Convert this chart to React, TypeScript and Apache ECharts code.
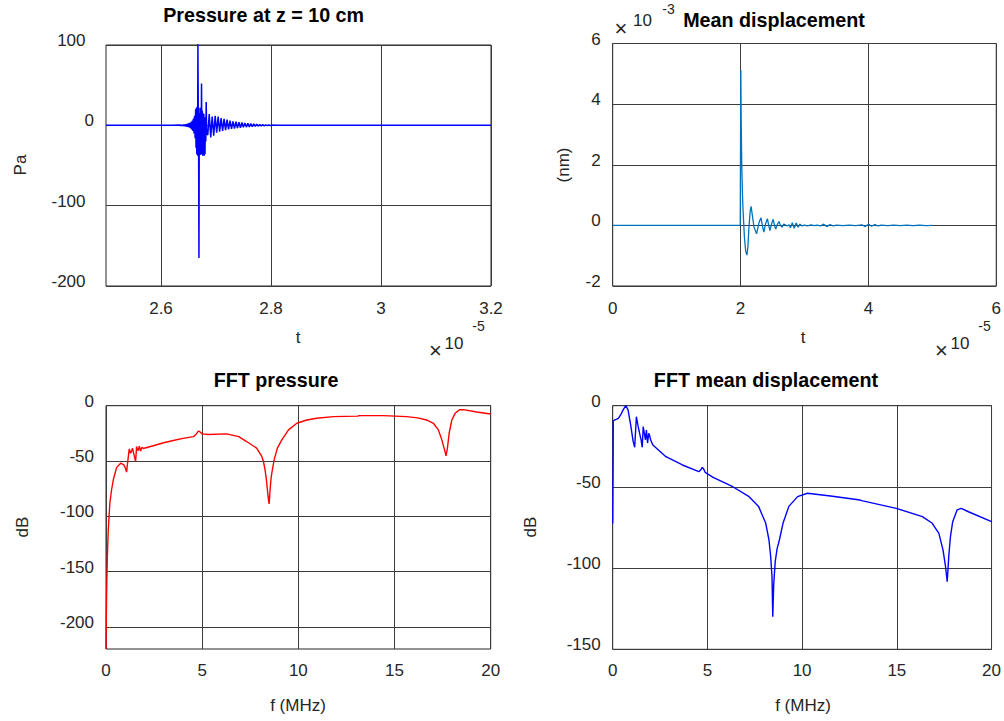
import React, { useEffect, useRef } from 'react';
import * as echarts from 'echarts';

// ---------- data ----------
// Pressure at z = 10 cm : t in units of 1e-5 s, pressure in Pa
const pressureT = [
  2.5, 2.62, 2.635, 2.636, 2.637, 2.638, 2.639, 2.64, 2.641, 2.642, 2.643, 2.644, 2.645, 2.646, 2.647, 2.648,
  2.649, 2.65, 2.651, 2.652, 2.653, 2.654, 2.655, 2.656, 2.657, 2.658, 2.659, 2.66, 2.661, 2.662, 2.663,
  2.6637, 2.6644, 2.6651, 2.6658, 2.6665, 2.6671, 2.6678, 2.6684, 2.669, 2.6696, 2.6702, 2.6709, 2.6716,
  2.6723, 2.673, 2.6737, 2.6744, 2.6751, 2.6758, 2.6765, 2.6772, 2.6779, 2.6786, 2.6793, 2.68, 2.6807,
  2.6814, 2.6822, 2.683, 2.685, 2.6877, 2.6904, 2.6931, 2.6958, 2.6985, 2.7012, 2.7039, 2.7066, 2.7093,
  2.712, 2.7147, 2.7174, 2.7201, 2.7228, 2.7255, 2.7282, 2.7309, 2.7336, 2.7363, 2.739, 2.7417, 2.7444,
  2.7471, 2.7498, 2.7525, 2.7552, 2.7579, 2.7606, 2.7633, 2.766, 2.7687, 2.7714, 2.7741, 2.7768, 2.7795,
  2.7822, 2.7849, 2.7876, 2.7903, 2.793, 2.7957, 2.7984, 2.8011, 2.81, 3.2,
];
const pressurePa = [
  0, 0, 0.5, -0.5, 0.6, -0.6, 0.7, -0.8, 0.9, -1.0, 1.1, -1.2, 1.4, -1.5, 1.7, -1.9,
  2.1, -2.4, 2.7, -3.0, 3.4, -3.9, 4.5, -5.2, 6.0, -7.0, 8.5, -10, 12, -16, 20,
  -28, 22, -36, 23, -38, 103, 10, -30, -165, 15, -36, 22, -37,
  20, -35, 52, -36, 18, -38, 15, -37, 14, -38, 10, -36, 8,
  -20, 29, -10, -12, 14, -15, 11, -13, 12, -9, 11, -8, 9,
  -7, 8, -6, 7, -5, 6, -4.5, 5, -4, 4.5, -3.5, 4, -3,
  3.5, -2.5, 3, -2.2, 2.5, -2, 2.2, -1.6, 1.8, -1.3, 1.4, -1, 1.1,
  -0.8, 0.8, -0.6, 0.6, -0.4, 0.4, -0.3, 0.3, 0, 0,
];

// Mean displacement : t in units of 1e-5 s, displacement in units of 1e-3 nm
const dispT = [
  0, 1.995, 2.0, 2.004, 2.01, 2.015, 2.02, 2.03, 2.04, 2.05, 2.06, 2.08, 2.1, 2.115, 2.13, 2.15, 2.165,
  2.18, 2.21, 2.25, 2.29, 2.32, 2.345, 2.365, 2.39, 2.42, 2.44, 2.46, 2.485, 2.51, 2.53, 2.55, 2.575,
  2.6, 2.625, 2.65, 2.675, 2.7, 2.73, 2.76, 2.78, 2.81, 2.84, 2.87, 2.9, 2.93, 2.96, 3.0, 3.05, 3.1,
  3.15, 3.2, 3.25, 3.3, 3.35, 3.4, 3.45, 3.5, 3.6, 3.7, 3.8, 3.9, 3.95, 4.0, 4.05, 4.1, 4.15, 4.2,
  4.3, 4.4, 4.5, 4.6, 4.7, 4.8, 4.9, 5.0,
];
const dispV = [
  0, 0, 0.02, 5.12, 3.45, 2.6, 1.9, 1.0, 0.45, 0.05, -0.38, -0.85, -0.98, -0.7, -0.1, 0.45, 0.63,
  0.4, -0.05, -0.28, 0.1, 0.25, -0.05, -0.22, 0.05, 0.22, 0.0, -0.17, 0.05, 0.2, 0.0, -0.12, 0.03,
  0.13, 0.0, -0.06, 0.04, 0.02, -0.02, 0.02, -0.08, 0.09, -0.1, 0.08, -0.06, 0.04, -0.02, 0.01, -0.02, 0.02,
  -0.01, 0.01, -0.02, 0.04, -0.04, 0.03, -0.02, 0.01, -0.01, 0.01, -0.01, 0.02, -0.04, 0.04, -0.03, 0.03, -0.02, 0.01,
  -0.01, 0.01, -0.01, 0.01, -0.01, 0.01, -0.01, 0.0,
];

// FFT pressure : f in MHz, level in dB
const fftPressureF = [
  0, 0.01, 0.03, 0.07, 0.12, 0.2, 0.29, 0.38, 0.55, 0.76, 0.93, 1.02, 1.07, 1.12, 1.21, 1.28, 1.33, 1.38,
  1.45, 1.49, 1.54, 1.59, 1.64, 1.68, 1.73, 1.8, 1.87, 1.94, 2.5, 3.0, 3.5, 4.0, 4.54, 4.7, 4.8, 4.88,
  5.0, 5.3, 6.27, 6.9, 7.31, 7.83, 8.1, 8.18, 8.27, 8.34, 8.39, 8.44, 8.48, 8.53, 8.58, 8.62, 8.73, 8.74,
  8.91, 9.14, 9.49, 9.92, 10.44, 10.95, 11.82, 13.1, 13.15, 14.42, 15.63, 16.2, 16.67, 17.02, 17.28,
  17.46, 17.6, 17.68, 17.75, 17.84, 17.98, 18.15, 18.38, 18.58, 19.27, 20,
];
const fftPressureDb = [
  -220, -200, -172, -136, -112, -88, -76, -67, -56, -52, -53.5, -57, -60, -52, -39, -43, -41, -38.5,
  -44, -47, -50.4, -37, -40, -40.5, -36.5, -41, -37.5, -38.7, -36, -33.5, -31.5, -29.5, -28, -25.5, -23, -23.5,
  -25.5, -26, -25.5, -28, -32.4, -38.4, -45.9, -50, -58, -67, -76, -84, -88.8, -76, -66, -61, -50, -49,
  -38.4, -30.9, -21.9, -15.9, -12.9, -11.4, -9.9, -9.4, -9.0, -9.0, -9.9, -11, -12.9, -15.9, -21.9,
  -30.9, -39.9, -45.3, -38.4, -24.9, -12.9, -6.9, -3.6, -3.6, -5.7, -7.5,
];

// FFT mean displacement : f in MHz, level in dB
const fftDispF = [
  0, 0.02, 0.03, 0.3, 0.45, 0.55, 0.69, 0.81, 0.95, 1.08, 1.16, 1.25, 1.33, 1.42, 1.5, 1.56, 1.61, 1.67,
  1.73, 1.78, 1.84, 1.9, 1.94, 2.0, 2.12, 2.81, 3.68, 4.55, 4.65, 4.73, 4.8, 4.88, 5.3, 6.34, 7.2, 7.7,
  8.08, 8.25, 8.34, 8.41, 8.45, 8.5, 8.58, 8.68, 8.8, 8.99, 9.3, 9.76, 10.28, 11.5, 13.06, 13.2, 14.97,
  16.35, 16.87, 17.22, 17.44, 17.57, 17.66, 17.74, 17.83, 17.95, 18.18, 18.4, 18.78, 20,
];
const fftDispDb = [
  -72.4, -40, -9.2, -7.8, -5, -2.6, 0, -2.6, -12, -22, -25.6, -6.8, -12, -17, -21, -25.6, -12.9, -17,
  -21, -15, -23, -17, -18, -21, -24.2, -31.4, -36.5, -40.6, -39.5, -38, -39, -41, -44.1, -49.9, -56, -62,
  -72.4, -82.7, -93, -105, -130, -110, -96, -88, -82.7, -72.4, -62, -56, -53.9, -55.6, -58.1, -58.6, -63.2,
  -68.3, -72.4, -78.6, -88.9, -99, -108.4, -93, -80.7, -71.4, -64.2, -63.2, -65.3, -71.4,
];

// axis ranges / tick steps
const pressureXRange = [2.5, 3.2];
const pressureYRange = [-200, 100];
const dispXRange = [0, 6];
const dispYRange = [-2, 6];
const freqRange = [0, 20];
const fftPressureYRange = [-220, 0];
const fftDispYRange = [-150, 0];

const titles = ['Pressure at z = 10 cm', 'Mean displacement', 'FFT pressure', 'FFT mean displacement'];

const zip = (a: number[], b: number[]) => a.map((v, i) => [v, b[i]]);

const FONT = 'Liberation Sans, Arial, Helvetica, sans-serif';
const TICK_COLOR = '#262626';
const GRID_COLOR = '#3c3c3c';
const BORDER_COLOR = '#262626';

export default function App() {
  const ref = useRef<HTMLDivElement>(null);

  useEffect(() => {
    if (!ref.current) return;
    const chart = echarts.init(ref.current, undefined, { renderer: 'svg' });

    const grids = [
      { left: 106, top: 45, width: 385, height: 241 },
      { left: 612.7, top: 43.5, width: 384, height: 242.5 },
      { left: 106, top: 405.7, width: 384.7, height: 243.3 },
      { left: 612.7, top: 405.7, width: 384, height: 243.6 },
    ].map((g) => ({
      ...g,
      show: true,
      borderColor: BORDER_COLOR,
      borderWidth: 1,
      backgroundColor: '#fff',
      containLabel: false,
    }));

    const baseLabel = { color: TICK_COLOR, fontSize: 17, fontFamily: FONT };
    const splitSolid = (color: any) => ({ show: true, lineStyle: { color, width: 1, type: 'solid' } });

    const xLabel = (margin: number, extra: any = {}) => ({ ...baseLabel, margin, ...extra });
    const yLabel = (extra: any = {}) => ({
      ...baseLabel, margin: 12, verticalAlign: 'bottom', lineHeight: 9, ...extra,
    });

    const xAxis: any[] = [
      {
        gridIndex: 0, type: 'value', min: pressureXRange[0], max: pressureXRange[1], interval: 0.1,
        axisLine: { show: false }, axisTick: { show: false },
        splitLine: splitSolid(['transparent', GRID_COLOR]),
        axisLabel: xLabel(14, {
          formatter: (v: number) => {
            const k = Math.round(v * 10);
            return k % 2 === 0 ? String(Number(v.toFixed(1))) : '';
          },
          showMinLabel: true, showMaxLabel: true, hideOverlap: false,
        }),
      },
      {
        gridIndex: 1, type: 'value', min: dispXRange[0], max: dispXRange[1], interval: 2,
        axisLine: { show: false }, axisTick: { show: false },
        splitLine: splitSolid(GRID_COLOR), axisLabel: xLabel(14),
      },
      {
        gridIndex: 2, type: 'value', min: freqRange[0], max: freqRange[1], interval: 5,
        axisLine: { show: false }, axisTick: { show: false },
        splitLine: splitSolid(GRID_COLOR), axisLabel: xLabel(13),
      },
      {
        gridIndex: 3, type: 'value', min: freqRange[0], max: freqRange[1], interval: 5,
        axisLine: { show: false }, axisTick: { show: false },
        splitLine: splitSolid(GRID_COLOR), axisLabel: xLabel(13),
      },
    ];

    const yAxis: any[] = [
      {
        gridIndex: 0, type: 'value', min: pressureYRange[0], max: pressureYRange[1], interval: 100,
        axisLine: { show: false }, axisTick: { show: false },
        splitLine: splitSolid(GRID_COLOR),
        axisLabel: yLabel({ formatter: (v: number) => (v === 0 ? '0' : `${v}\u2002`) }),
      },
      {
        gridIndex: 1, type: 'value', min: dispYRange[0], max: dispYRange[1], interval: 2,
        axisLine: { show: false }, axisTick: { show: false },
        splitLine: splitSolid(GRID_COLOR), axisLabel: yLabel(),
      },
      {
        gridIndex: 2, type: 'value', min: fftPressureYRange[0], max: fftPressureYRange[1], interval: 10,
        axisLine: { show: false }, axisTick: { show: false },
        splitLine: splitSolid(['transparent', 'transparent', GRID_COLOR, 'transparent', 'transparent']),
        axisLabel: yLabel({ formatter: (v: number) => (Math.round(v) % 50 === 0 ? String(v) : '') }),
      },
      {
        gridIndex: 3, type: 'value', min: fftDispYRange[0], max: fftDispYRange[1], interval: 50,
        axisLine: { show: false }, axisTick: { show: false },
        splitLine: splitSolid(GRID_COLOR), axisLabel: yLabel(),
      },
    ];

    const lineSeries = (i: number, data: number[][], color: string, width = 1.3) => ({
      type: 'line', xAxisIndex: i, yAxisIndex: i, data, showSymbol: false, symbol: 'none',
      lineStyle: { color, width }, itemStyle: { color }, clip: true,
      silent: true, z: 3,
    });

    const series = [
      lineSeries(0, zip(pressureT, pressurePa), '#0000ff', 1.5),
      lineSeries(1, zip(dispT, dispV), '#0072bd', 1.3),
      lineSeries(2, zip(fftPressureF, fftPressureDb), '#ff0000', 1.4),
      lineSeries(3, zip(fftDispF, fftDispDb), '#0000ff', 1.4),
    ];

    const txt = (text: string, x: number, y: number, o: any = {}) => ({
      type: 'text', x, y, rotation: o.rotation || 0, silent: true,
      style: {
        text, fill: o.fill || TICK_COLOR, fontSize: o.fontSize || 17, fontFamily: FONT,
        fontWeight: o.fontWeight || 'normal', align: o.align || 'center', verticalAlign: 'middle',
      },
    });
    const bold = { fill: '#000', fontSize: 19.7, fontWeight: 'bold' };

    const graphic = [
      txt(titles[0], 263.6, 15, bold),
      txt(titles[1], 774, 20, bold),
      txt(titles[2], 276, 379.5, bold),
      txt(titles[3], 766, 379.5, bold),
      // axis names
      txt('t', 298, 337),
      txt('t', 803, 337),
      txt('f (MHz)', 298, 705),
      txt('f (MHz)', 803, 705),
      txt('Pa', 20, 165, { rotation: Math.PI / 2 }),
      txt('(nm)', 563, 165, { rotation: Math.PI / 2 }),
      txt('dB', 22, 527, { rotation: Math.PI / 2 }),
      txt('dB', 530, 527, { rotation: Math.PI / 2 }),
      // exponent labels
      txt('\u00d7', 435.5, 350, { fontSize: 22 }),
      txt('10', 454, 343),
      txt('-5', 478.5, 325.5, { fontSize: 14 }),
      txt('\u00d7', 941.5, 350, { fontSize: 22 }),
      txt('10', 960, 343),
      txt('-5', 984.5, 325.5, { fontSize: 14 }),
      txt('\u00d7', 621, 28, { fontSize: 22 }),
      txt('10', 642.5, 20),
      txt('-3', 668.5, 9, { fontSize: 14 }),
    ];

    chart.setOption({
      animation: false,
      backgroundColor: '#ffffff',
      grid: grids,
      xAxis,
      yAxis,
      series,
      graphic,
    });

    return () => chart.dispose();
  }, []);

  return (
    <div
      ref={ref}
      style={{ position: 'fixed', left: 0, top: 0, width: 1004, height: 721, background: '#fff' }}
    />
  );
}
